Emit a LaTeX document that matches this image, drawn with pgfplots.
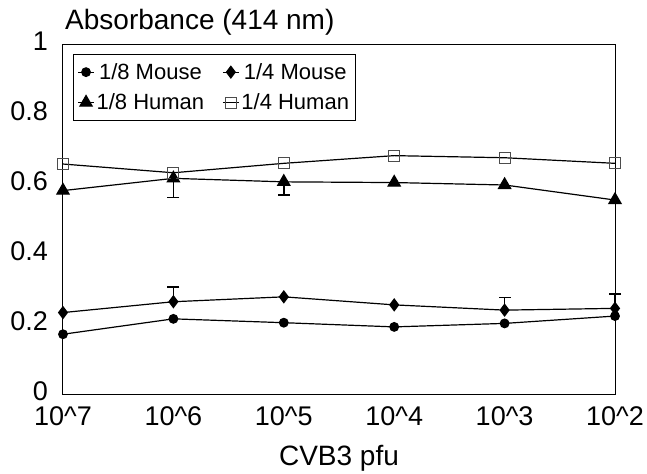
\documentclass[border=0pt]{standalone}
\usepackage{fontspec}
\setmainfont{Liberation Sans}
\usepackage{pgfplots}
\pgfplotsset{compat=1.18}
\begin{document}
\begin{tikzpicture}
\begin{axis}[
  scale only axis, width=552bp, height=349.5bp,
  xmin=0, xmax=5, ymin=0, ymax=1,
  clip=false,
  axis line style={line width=1bp},
  xtick={0,1,2,3,4,5},
  xticklabels={10\textasciicircum 7,10\textasciicircum 6,10\textasciicircum 5,10\textasciicircum 4,10\textasciicircum 3,10\textasciicircum 2},
  ytick={0,0.2,0.4,0.6,0.8,1},
  yticklabels={0,0.2,0.4,0.6,0.8,1},
  major tick length=0pt,
  tick label style={font=\fontsize{27bp}{30bp}\selectfont},
  yticklabel style={anchor=east, inner sep=0pt, xshift=-15bp, yshift=3bp},
  xticklabel style={anchor=north, inner sep=0pt, yshift=-12.5bp},
  xlabel={CVB3 pfu},
  xlabel style={at={(axis description cs:0.5,0)}, anchor=base, inner sep=0pt, yshift=-71bp, font=\fontsize{28bp}{32bp}\selectfont},
  title={Absorbance (414 nm)},
  title style={at={(axis description cs:0,1)}, anchor=base west, inner sep=0pt, xshift=2bp, yshift=9.5bp, font=\fontsize{28bp}{32bp}\selectfont},
  legend columns=2,
  legend style={at={(axis description cs:0.018,0.973)}, anchor=north west,
    font=\fontsize{22bp}{25bp}\selectfont, draw=black, line width=1bp,
    inner xsep=4bp, inner ysep=7bp, row sep=9bp,
    /tikz/every even column/.append style={column sep=16bp}},
  legend image code/.code={\draw[mark repeat=2,mark phase=2] plot coordinates {(0bp,0bp) (8bp,0bp) (16bp,0bp)};},
  every axis plot/.append style={line width=1.2bp, black},
]
\addplot[mark=*, mark size=4.3bp, mark options={solid}] coordinates {
  (0,0.171) (1,0.215) (2,0.204) (3,0.192) (4,0.202) (5,0.223)};
\addlegendentry{1/8 Mouse}
\addplot[mark=diamond*, mark size=5.8bp, mark options={solid}] coordinates {
  (0,0.233) (1,0.264) (2,0.278) (3,0.255) (4,0.240) (5,0.245)};
\addlegendentry{1/4 Mouse}
\addplot[mark=triangle*, mark size=7bp, mark options={solid}] coordinates {
  (0,0.582) (1,0.617) (2,0.607) (3,0.605) (4,0.598) (5,0.555)};
\addlegendentry{1/8 Human}
\addplot[mark=square, mark size=5.5bp, mark options={solid, draw=black!70, line width=0.9bp}] coordinates {
  (0,0.658) (1,0.633) (2,0.660) (3,0.682) (4,0.676) (5,0.660)};
\addlegendentry{1/4 Human}
% error bars (1/8 Human, downward)
\addplot[forget plot, only marks, mark=none,
  error bars/.cd, y dir=minus, y explicit, error mark=none,
  error bar style={line width=1.6bp, black}]
  coordinates {(1,0.617) +- (0,0.055) (2,0.607) +- (0,0.038)};
% error bars (1/4 Mouse, upward)
\addplot[forget plot, only marks, mark=none,
  error bars/.cd, y dir=plus, y explicit, error mark=none,
  error bar style={line width=1.6bp, black}]
  coordinates {(1,0.264) +- (0,0.043) (4,0.240) +- (0,0.036) (5,0.245) +- (0,0.041)};
% error bar caps
\addplot[forget plot, only marks, mark=-, mark size=6bp, mark options={line width=1.6bp, black}]
  coordinates {(1,0.562) (2,0.569) (1,0.307) (4,0.276) (5,0.286)};
\end{axis}
\path[use as bounding box] ([xshift=-63bp,yshift=-80bp]current axis.south west) rectangle ([xshift=32bp,yshift=44.5bp]current axis.north east);
\end{tikzpicture}
\end{document}
